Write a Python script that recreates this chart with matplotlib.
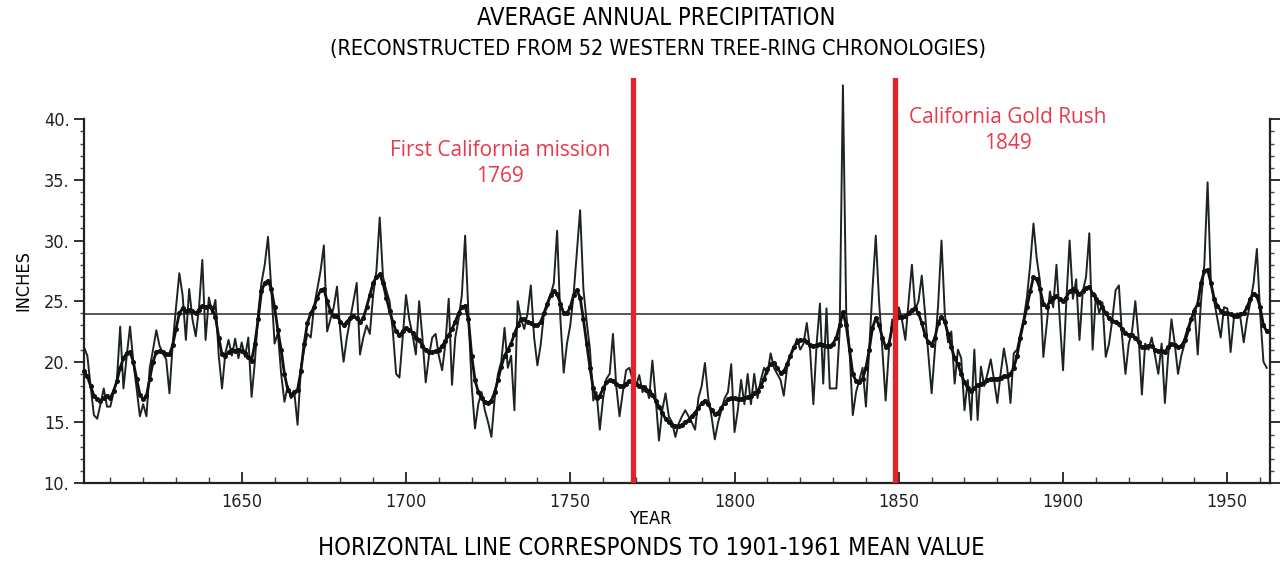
import numpy as np
import matplotlib
matplotlib.use("Agg")
import matplotlib.pyplot as plt
from matplotlib.ticker import MultipleLocator, FixedLocator

# ---------------- data ----------------
first_year = 1602
annual_values = [
    # 1602-1609
    21.2, 20.5, 18.0, 15.6, 15.3, 16.5, 17.8, 16.3,
    # 1610-1619
    16.3, 17.5, 18.5, 22.9, 17.8, 20.5, 22.9, 20.0, 17.8, 15.5,
    # 1620-1629
    16.5, 15.5, 19.5, 21.0, 22.6, 21.3, 20.7, 20.2, 17.4, 21.5,
    # 1630-1639
    24.5, 27.3, 25.5, 21.8, 26.0, 23.5, 22.1, 24.5, 28.4, 21.8,
    # 1640-1649
    25.3, 24.0, 25.1, 20.5, 17.8, 20.7, 21.8, 20.5, 21.9, 20.3,
    # 1650-1659
    21.6, 20.4, 22.0, 17.1, 20.0, 24.0, 26.5, 28.0, 30.3, 26.0,
    # 1660-1669
    21.5, 22.4, 19.0, 16.7, 18.0, 17.0, 17.5, 14.8, 19.5, 21.0,
    # 1670-1679
    22.3, 22.0, 24.5, 26.0, 27.5, 29.6, 22.5, 23.5, 24.5, 26.2,
    # 1680-1689
    22.5, 20.0, 22.0, 23.5, 25.0, 26.5, 20.6, 22.0, 23.0, 22.3,
    # 1690-1699
    25.5, 27.5, 31.9, 27.0, 25.9, 25.0, 22.5, 19.0, 18.7, 22.0,
    # 1700-1709
    25.5, 23.5, 22.2, 20.6, 25.0, 22.0, 18.3, 20.5, 22.0, 22.3,
    # 1710-1719
    20.5, 19.3, 21.5, 25.2, 18.1, 22.0, 23.5, 25.5, 30.4, 24.0,
    # 1720-1729
    18.0, 14.5, 16.5, 17.5, 16.0, 15.0, 13.8, 17.0, 19.0, 20.0,
    # 1730-1739
    22.8, 19.5, 20.5, 16.0, 25.0, 23.5, 22.7, 24.0, 26.3, 22.0,
    # 1740-1749
    19.7, 21.4, 24.0, 24.5, 25.5, 26.5, 30.8, 23.5, 19.1, 21.5,
    # 1750-1759
    23.0, 25.5, 29.0, 32.5, 26.0, 23.3, 21.0, 16.8, 17.5, 14.4,
    # 1760-1769
    17.0, 18.6, 19.0, 22.3, 18.0, 15.5, 17.5, 19.3, 19.5, 18.5,
    # 1770-1779
    18.0, 18.9, 17.5, 18.0, 17.0, 20.1, 17.0, 13.5, 16.0, 17.4,
    # 1780-1789
    15.5, 15.0, 13.8, 14.9, 15.5, 16.0, 15.5, 15.0, 14.4, 17.0,
    # 1790-1799
    18.0, 19.9, 17.0, 15.5, 13.6, 15.0, 16.0, 17.0, 17.5, 19.8,
    # 1800-1809
    14.2, 16.0, 18.5, 16.5, 19.0, 16.5, 19.0, 17.0, 18.5, 19.5,
    # 1810-1819
    19.0, 20.7, 19.5, 19.0, 18.5, 17.2, 19.5, 20.5, 21.0, 21.9,
    # 1820-1829
    21.0, 21.5, 23.2, 21.0, 16.5, 21.5, 24.8, 18.2, 24.4, 17.8,
    # 1830-1839
    17.8, 17.8, 22.5, 42.8, 24.0, 21.0, 15.6, 17.5, 18.5, 19.5,
    # 1840-1849
    16.3, 21.0, 26.0, 30.4, 25.0, 21.0, 16.8, 21.0, 23.5, 22.0,
    # 1850-1859
    24.5, 23.4, 21.8, 25.0, 28.0, 24.3, 25.0, 27.1, 24.0, 20.6,
    # 1860-1869
    17.4, 21.0, 24.8, 30.0, 24.0, 21.6, 22.5, 18.2, 21.0, 20.3,
    # 1870-1879
    16.0, 18.5, 15.2, 21.0, 15.2, 19.6, 18.0, 19.0, 20.2, 18.5,
    # 1880-1889
    16.6, 19.0, 21.1, 19.5, 16.6, 20.7, 21.0, 22.3, 23.5, 25.3,
    # 1890-1899
    28.0, 31.4, 28.5, 26.6, 20.4, 23.0, 25.8, 24.5, 28.0, 23.5,
    # 1900-1909
    19.3, 25.0, 30.0, 25.2, 26.8, 21.8, 25.8, 27.0, 30.6, 21.0,
    # 1910-1919
    25.5, 24.0, 24.9, 20.4, 21.5, 23.5, 25.9, 26.3, 22.0, 19.0,
    # 1920-1929
    21.5, 22.5, 25.0, 22.0, 17.3, 21.5, 21.0, 22.0, 20.5, 19.0,
    # 1930-1939
    21.5, 16.6, 20.5, 23.5, 21.5, 19.0, 20.5, 21.5, 22.3, 23.5,
    # 1940-1949
    24.4, 20.6, 25.0, 28.0, 34.8, 26.5, 25.0, 23.5, 22.0, 24.5,
    # 1950-1959
    24.4, 20.8, 23.6, 24.0, 23.6, 21.6, 23.5, 24.9, 26.5, 29.3,
    # 1960-1962
    24.0, 20.0, 19.5,
]

smoothed_values = [
    # 1602-1609
    19.2, 18.8, 18.0, 17.2, 16.9, 16.8, 17.0, 17.2,
    # 1610-1619
    17.0, 17.6, 18.4, 19.5, 20.3, 20.7, 20.8, 20.0, 18.6, 17.3,
    # 1620-1629
    16.9, 17.2, 18.6, 20.0, 20.8, 20.9, 20.8, 20.6, 20.6, 21.4,
    # 1630-1639
    22.7, 24.0, 24.4, 24.2, 24.3, 24.2, 24.0, 24.3, 24.6, 24.5,
    # 1640-1649
    24.6, 24.4, 23.7, 22.0, 20.6, 20.5, 20.8, 21.0, 20.9, 21.0,
    # 1650-1659
    20.9, 20.7, 20.4, 20.1, 21.5, 23.5, 25.8, 26.5, 26.7, 26.0,
    # 1660-1669
    24.5, 22.6, 21.0, 19.0, 17.7, 17.3, 17.5, 17.7, 19.2, 21.5,
    # 1670-1679
    23.2, 24.0, 24.5, 25.3, 25.9, 26.0, 25.0, 24.2, 23.8, 23.8,
    # 1680-1689
    23.3, 23.0, 23.3, 23.6, 23.8, 23.6, 23.3, 23.6, 24.5, 25.5,
    # 1690-1699
    26.5, 27.0, 27.2, 26.5, 25.3, 24.2, 23.3, 22.5, 22.2, 22.5,
    # 1700-1709
    22.8, 22.6, 22.4, 22.0, 21.8, 21.3, 21.0, 20.8, 20.8, 20.9,
    # 1710-1719
    21.0, 21.3, 21.7, 22.2, 22.7, 23.3, 24.0, 24.5, 24.6, 23.5,
    # 1720-1729
    20.5, 18.5, 17.5, 17.0, 16.7, 16.6, 16.8, 17.5, 18.5, 19.6,
    # 1730-1739
    20.5, 21.0, 21.5, 22.3, 23.0, 23.5, 23.5, 23.3, 23.2, 23.0,
    # 1740-1749
    23.0, 23.3, 24.0, 24.8, 25.5, 25.8, 25.6, 24.8, 24.0, 24.0,
    # 1750-1759
    24.5, 25.5, 25.9, 25.3, 23.5, 21.5, 19.5, 17.8, 17.0, 17.2,
    # 1760-1769
    17.8, 18.3, 18.5, 18.4, 18.2, 18.0, 18.0, 18.2, 18.4, 18.3,
    # 1770-1779
    18.2, 18.0, 17.9, 17.7, 17.6, 17.3, 16.8, 16.3, 15.8, 15.3,
    # 1780-1789
    15.0, 14.8, 14.7, 14.7, 14.8, 15.0, 15.2, 15.5, 15.8, 16.2,
    # 1790-1799
    16.6, 16.8, 16.5, 16.0, 15.7, 15.8, 16.2, 16.6, 16.9, 17.0,
    # 1800-1809
    17.0, 16.9, 16.9, 17.0, 17.1, 17.2, 17.4, 17.6, 18.0, 18.6,
    # 1810-1819
    19.4, 19.8, 19.9, 19.5, 19.1, 19.2, 19.8, 20.5, 21.2, 21.6,
    # 1820-1829
    21.8, 21.8, 21.6, 21.4, 21.3, 21.4, 21.5, 21.4, 21.3, 21.3,
    # 1830-1839
    21.5, 22.0, 23.0, 24.1, 23.0, 21.0, 19.0, 18.4, 18.3, 18.6,
    # 1840-1849
    19.5, 21.0, 22.8, 23.6, 23.0, 22.0, 21.2, 21.5, 22.8, 23.5,
    # 1850-1859
    23.7, 23.7, 23.8, 24.0, 24.3, 24.4, 24.0, 23.2, 22.2, 21.6,
    # 1860-1869
    21.4, 22.0, 23.2, 23.7, 23.3, 22.3, 21.2, 20.3, 19.8, 19.0,
    # 1870-1879
    18.3, 17.8, 17.6, 17.8, 18.1, 18.2, 18.3, 18.5, 18.6, 18.6,
    # 1880-1889
    18.6, 18.7, 18.8, 18.8, 19.0, 19.5, 20.5, 22.0, 23.3, 24.5,
    # 1890-1899
    25.8, 27.0, 26.8, 26.0, 24.8, 24.5, 25.0, 25.3, 25.4, 25.2,
    # 1900-1909
    25.0, 25.3, 25.8, 26.0, 25.8, 25.6, 25.8, 26.1, 26.2, 25.6,
    # 1910-1919
    25.2, 24.9, 24.5, 24.0, 23.6, 23.4, 23.3, 23.1, 22.7, 22.4,
    # 1920-1929
    22.2, 22.2, 22.0, 21.6, 21.2, 21.2, 21.3, 21.3, 21.0, 20.9,
    # 1930-1939
    20.9, 20.8, 21.2, 21.5, 21.4, 21.2, 21.3, 21.8, 22.7, 23.5,
    # 1940-1949
    24.2, 24.8, 26.5, 27.5, 27.6, 26.5, 25.2, 24.6, 24.2, 24.0,
    # 1950-1959
    24.0, 23.9, 23.8, 23.8, 23.9, 24.0, 24.5, 25.2, 25.6, 25.4,
    # 1960-1962
    24.5, 23.0, 22.5,
]

mean_1901_1961 = 23.9
event_years = [1769, 1849]
event_labels = ["First California mission\n1769", "California Gold Rush\n1849"]
year_ticks = [1650, 1700, 1750, 1800, 1850, 1900, 1950]
inch_ticks = [10, 15, 20, 25, 30, 35, 40]
inch_tick_labels = ["10.", "15.", "20.", "25.", "30.", "35.", "40."]

years = np.arange(first_year, first_year + len(annual_values))
assert len(annual_values) == len(smoothed_values)

# ---------------- fonts ----------------
plt.rcParams['font.family'] = ['DejaVu Sans']
plt.rcParams['font.stretch'] = 'condensed'

# ---------------- figure ----------------
fig = plt.figure(figsize=(12.87, 5.70), dpi=100)
ax = fig.add_axes([0.0653, 0.1526, 0.9215, 0.7105])
ax.set_xlim(1602, 1963)
ax.set_ylim(10, 43.4)

ink = "#1c2422"
ax.axhline(mean_1901_1961, color="#3a3a3a", lw=1.2, zorder=2)
ax.plot(years, annual_values, color=ink, lw=1.4, zorder=3, clip_on=False)
ax.plot(years, smoothed_values, color="#111111", lw=2.0, marker='o', ms=2.6,
        zorder=4, clip_on=False)

red = "#e3222c"
for yr in event_years:
    ax.axvline(yr, color=red, lw=3.8, zorder=5)

txt_red = "#e8394a"
ax.text(1728.7, 36.35, event_labels[0], color=txt_red, ha='center', va='center',
        fontsize=15, linespacing=1.3, family=['Open Sans', 'DejaVu Sans'],
        fontstretch='normal')
ax.text(1883.2, 39.1, event_labels[1], color=txt_red, ha='center', va='center',
        fontsize=15, linespacing=1.3, family=['Open Sans', 'DejaVu Sans'],
        fontstretch='normal')

# spines
ax.spines['top'].set_visible(False)
ax.spines['left'].set_bounds(10, 40)
ax.spines['right'].set_bounds(10, 40)
for s in ['left', 'right', 'bottom']:
    ax.spines[s].set_linewidth(1.6)
    ax.spines[s].set_color("#222222")

ax.yaxis.set_major_locator(FixedLocator(inch_ticks))
ax.set_yticklabels(inch_tick_labels)
ax.yaxis.set_minor_locator(FixedLocator(np.arange(10, 41, 1)))
ax.tick_params(axis='y', which='major', direction='out', length=7, width=1.3,
               labelsize=13, left=True, right=True, colors="#222222")
ax.tick_params(axis='y', which='minor', direction='out', length=3, width=1.0,
               left=True, right=True, colors="#444444")

ax.xaxis.set_major_locator(FixedLocator(year_ticks))
ax.xaxis.set_minor_locator(MultipleLocator(10))
ax.tick_params(axis='x', which='major', direction='in', length=8, width=1.3,
               labelsize=13, pad=7, colors="#222222")
ax.tick_params(axis='x', which='minor', direction='in', length=4, width=1.0,
               colors="#444444")

ax.set_ylabel("INCHES", fontsize=13, labelpad=8)
fig.text(0.505, 0.090, "YEAR", ha='center', va='center', fontsize=13)
fig.text(0.506, 0.038, "HORIZONTAL LINE CORRESPONDS TO 1901-1961 MEAN VALUE",
         ha='center', va='center', fontsize=17)
fig.text(0.51, 0.968, "AVERAGE ANNUAL PRECIPITATION", ha='center', va='center',
         fontsize=17)
fig.text(0.511, 0.914, "(RECONSTRUCTED FROM 52 WESTERN TREE-RING CHRONOLOGIES)",
         ha='center', va='center', fontsize=15.5)

fig.savefig("out.png", dpi=100)
